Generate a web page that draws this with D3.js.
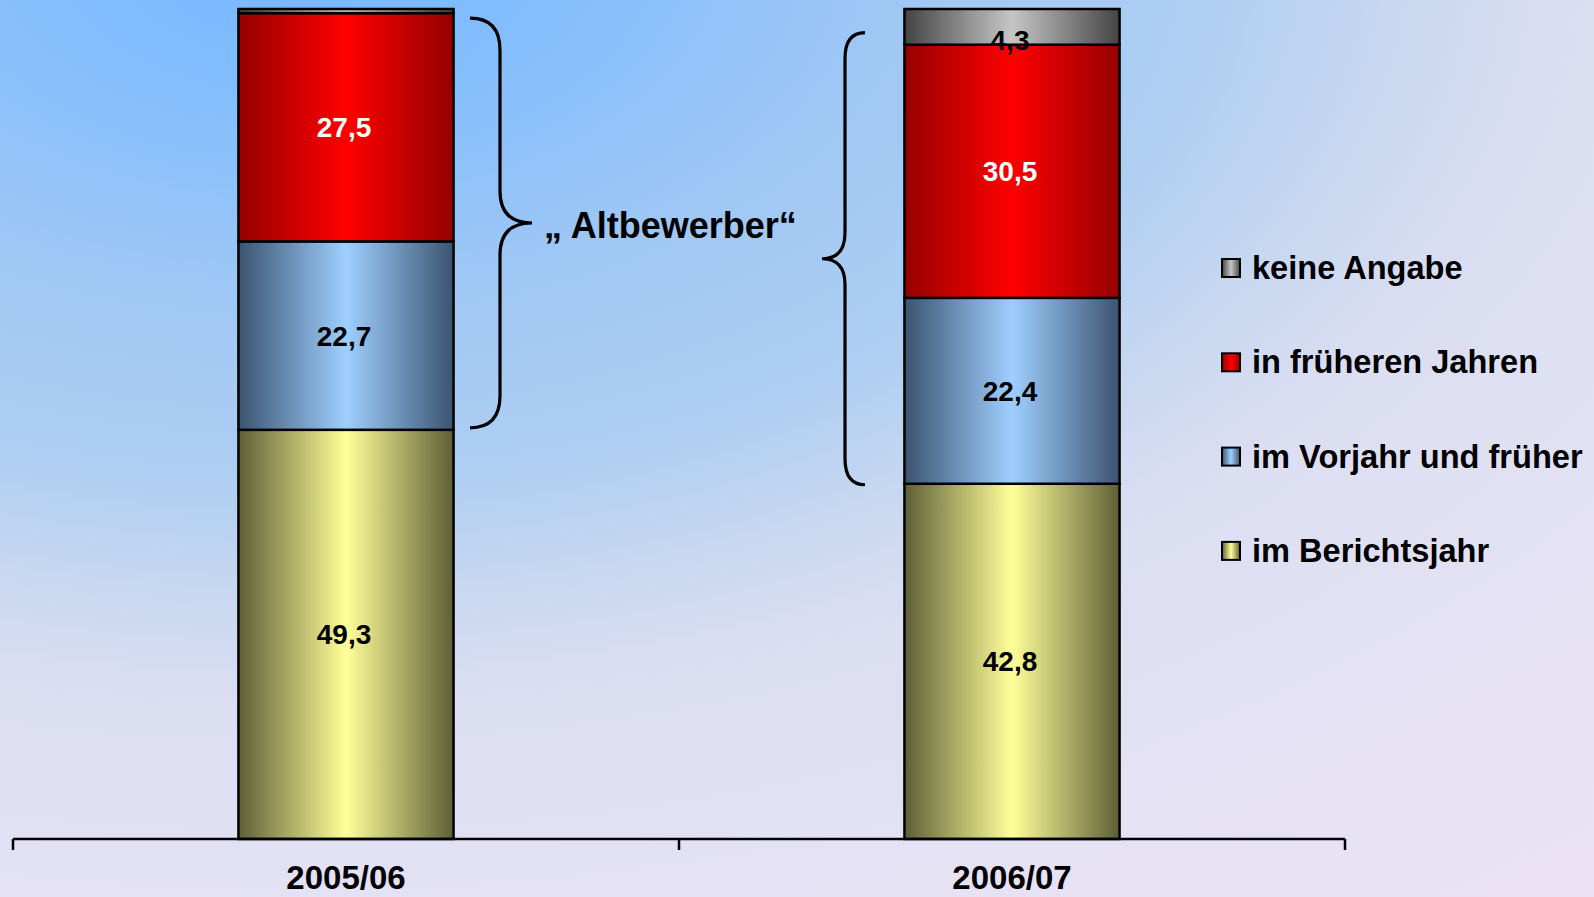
<!DOCTYPE html>
<html>
<head>
	<meta charset="utf-8">
	<title>Altbewerber</title>
	<script src="https://d3js.org/d3.v7.min.js"></script>
	<style>
		body { margin: 0; overflow: hidden; }
		svg { display: block; font-family: "Liberation Sans", Arial, sans-serif; font-weight: bold; }
	</style>
</head>
<body>
<svg width="1594" height="897"></svg>
<script>
	// data
	var categories = ["2005/06", "2006/07"];
	var seriesNames = ["im Berichtsjahr", "im Vorjahr und früher", "in früheren Jahren", "keine Angabe"];
	var berichtsjahr = [49.3, 42.8];
	var vorjahr = [22.7, 22.4];
	var fruehereJahre = [27.5, 30.5];
	var keineAngabe = [0.5, 4.3];
	var bracketLabel = "\u201E Altbewerber\u201C";

	var colors = [
		{ dark: "#5e5f37", light: "#ffff99", text: "#000" },
		{ dark: "#3b5470", light: "#9fcfff", text: "#000" },
		{ dark: "#950000", light: "#ff0000", text: "#fff" },
		{ dark: "#444444", light: "#c6c6c6", text: "#000" }
	];

	var svg = d3.select("svg"),
		width = +svg.attr("width"),
		height = +svg.attr("height");

	var defs = svg.append("defs");

	// background: elliptic blend from the upper left blue to lavender
	var bg = defs.append("radialGradient").attr("id", "bg")
		.attr("gradientUnits", "userSpaceOnUse")
		.attr("cx", 0).attr("cy", 0).attr("r", 1)
		.attr("gradientTransform", "translate(300,-50) scale(2040,1200)");
	[[0, "#78b6ff"], [0.1, "#80bcff"], [0.3, "#a0c8f4"], [0.44, "#aecef2"],
	 [0.54, "#c8d8f0"], [0.63, "#dcdef2"], [0.8, "#e4e2f4"], [1, "#ebe3f4"]].forEach(function(s) {
		bg.append("stop").attr("offset", s[0]).attr("stop-color", s[1]);
	});
	svg.append("rect").attr("width", width).attr("height", height).attr("fill", "url(#bg)");

	colors.forEach(function(c, i) {
		var g = defs.append("linearGradient").attr("id", "g" + i)
			.attr("x1", 0).attr("y1", 0).attr("x2", 1).attr("y2", 0);
		g.append("stop").attr("offset", "0").attr("stop-color", c.dark);
		g.append("stop").attr("offset", "0.5").attr("stop-color", c.light);
		g.append("stop").attr("offset", "1").attr("stop-color", c.dark);
	});

	var x = d3.scaleBand().domain(categories).range([13, 1345]).padding(0);
	var y = d3.scaleLinear().domain([0, 100]).range([839, 9]);
	var barW = x.bandwidth() * 0.323;

	var table = categories.map(function(c, i) {
		return { cat: c, v0: berichtsjahr[i], v1: vorjahr[i], v2: fruehereJahre[i], v3: keineAngabe[i] };
	});
	var stacked = d3.stack().keys(["v0", "v1", "v2", "v3"])(table);

	var layer = svg.selectAll(".layer")
		.data(stacked)
		.enter().append("g")
		.attr("class", "layer")
		.attr("fill", function(d, i) { return "url(#g" + i + ")"; });

	layer.selectAll("rect")
		.data(function(d) { return d; })
		.enter().append("rect")
		.attr("x", function(d) { return x(d.data.cat) + (x.bandwidth() - barW) / 2; })
		.attr("y", function(d) { return y(d[1]); })
		.attr("width", barW)
		.attr("height", function(d) { return y(d[0]) - y(d[1]); })
		.attr("stroke", "#000")
		.attr("stroke-width", 2.5);

	// value labels
	stacked.forEach(function(s, si) {
		s.forEach(function(d) {
			var v = d[1] - d[0];
			if (v < 1) return;
			var mid = (y(d[0]) + y(d[1])) / 2;
			svg.append("text")
				.attr("x", x(d.data.cat) + x.bandwidth() / 2 - 2)
				.attr("y", Math.max(mid, y(d[1]) + 31))
				.attr("dy", "0.36em")
				.attr("text-anchor", "middle")
				.attr("font-size", 28)
				.attr("fill", colors[si].text)
				.text(d3.format(".1f")(v).replace(".", ","));
		});
	});

	// x axis
	var axis = svg.append("g");
	axis.append("line")
		.attr("x1", x.range()[0]).attr("x2", x.range()[1])
		.attr("y1", y(0)).attr("y2", y(0))
		.attr("stroke", "#000").attr("stroke-width", 2.5);
	var ticks = [x.range()[0]].concat(categories.map(function(c) { return x(c) + x.bandwidth(); }));
	axis.selectAll(".tick")
		.data(ticks)
		.enter().append("line")
		.attr("x1", function(d) { return d; }).attr("x2", function(d) { return d; })
		.attr("y1", y(0)).attr("y2", y(0) + 11)
		.attr("stroke", "#000").attr("stroke-width", 2.5);
	axis.selectAll(".cat")
		.data(categories)
		.enter().append("text")
		.attr("x", function(d) { return x(d) + x.bandwidth() / 2; })
		.attr("y", 889)
		.attr("text-anchor", "middle")
		.attr("font-size", 33)
		.text(function(d) { return d; });

	// braces
	function brace(x0, xs, xt, yt, yb, ym, r) {
		return "M" + x0 + "," + yt +
			" Q" + xs + "," + yt + " " + xs + "," + (yt + r) +
			" L" + xs + "," + (ym - r) +
			" Q" + xs + "," + ym + " " + xt + "," + ym +
			" Q" + xs + "," + ym + " " + xs + "," + (ym + r) +
			" L" + xs + "," + (yb - r) +
			" Q" + xs + "," + yb + " " + x0 + "," + yb;
	}
	var b1Top = y(berichtsjahr[0] + vorjahr[0] + fruehereJahre[0]) + 5,
		b1Bot = y(berichtsjahr[0]) - 2;
	svg.append("path")
		.attr("d", brace(470, 500, 532, b1Top, b1Bot, (b1Top + b1Bot) / 2, 32))
		.attr("fill", "none").attr("stroke", "#000").attr("stroke-width", 3.2);
	var b2Top = y(berichtsjahr[1] + vorjahr[1] + fruehereJahre[1]) - 12,
		b2Bot = y(berichtsjahr[1]) + 1;
	svg.append("path")
		.attr("d", brace(865, 845, 822, b2Top, b2Bot, (b2Top + b2Bot) / 2, 26))
		.attr("fill", "none").attr("stroke", "#000").attr("stroke-width", 3.2);

	svg.append("text")
		.attr("x", 544)
		.attr("y", (b1Top + b1Bot) / 2 + 15)
		.attr("font-size", 36)
		.text(bracketLabel);

	// legend
	var legend = svg.selectAll(".legend")
		.data(seriesNames.slice().reverse())
		.enter().append("g")
		.attr("transform", function(d, i) { return "translate(1222," + (279 + i * 94.3) + ")"; });
	legend.append("rect")
		.attr("x", 0).attr("y", -20)
		.attr("width", 18).attr("height", 18)
		.attr("fill", function(d) { return "url(#g" + seriesNames.indexOf(d) + ")"; })
		.attr("stroke", "#000").attr("stroke-width", 2);
	legend.append("text")
		.attr("x", 30)
		.attr("y", 0)
		.attr("font-size", 32.6)
		.text(function(d) { return d; });
</script>
</body>
</html>
